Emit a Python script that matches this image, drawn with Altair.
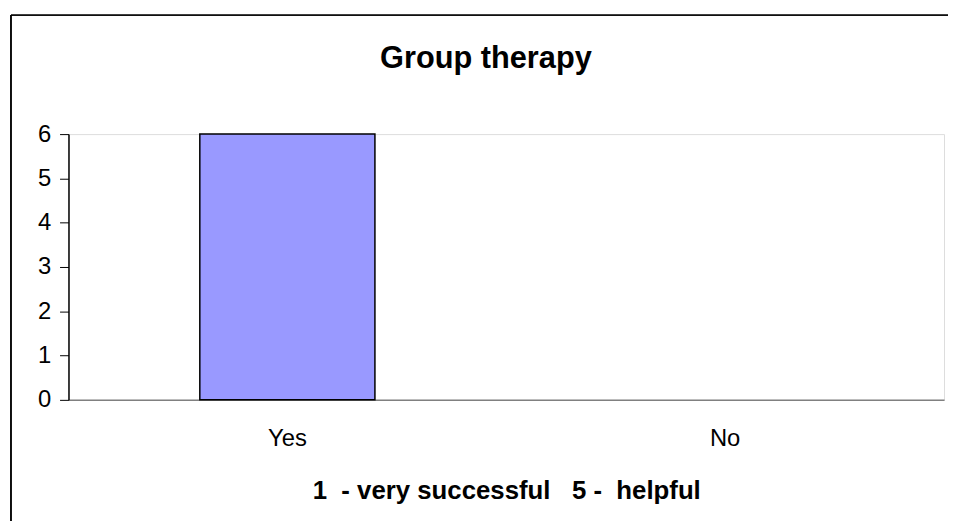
import altair as alt
import pandas as pd

categories = ["Yes", "No"]
values = [6, 0]
y_ticks = [0, 1, 2, 3, 4, 5, 6]
chart_title = ["Group therapy"]
x_title = "1\u00a0\u00a0-\u00a0very successful\u00a0\u00a0\u00a05\u00a0-\u00a0\u00a0helpful"

df = pd.DataFrame({"answer": categories, "count": values})
title_df = pd.DataFrame({"t": chart_title})

FONT = "Liberation Sans"

bars = alt.Chart(df).transform_filter("datum.count > 0").mark_bar(
    color="#9999FF", stroke="#000000", strokeWidth=1.5
).encode(
    x=alt.X(
        "answer:N",
        sort=categories,
        scale=alt.Scale(domain=categories, paddingInner=0.6, paddingOuter=0.3),
        axis=alt.Axis(
            title=x_title,
            labelAngle=0,
            labelFontSize=24,
            labelFont=FONT,
            labelColor="#000000",
            labelPadding=27,
            ticks=False,
            domainColor="#808080",
            domainWidth=1.5,
            titleFont=FONT,
            titleFontSize=26,
            titleFontWeight="bold",
            titleColor="#000000",
            titlePadding=27,
        ),
    ),
    y=alt.Y(
        "count:Q",
        scale=alt.Scale(domain=[0, 6], nice=False),
        axis=alt.Axis(
            title=None,
            values=y_ticks,
            format="d",
            grid=False,
            labelFontSize=24,
            labelFont=FONT,
            labelColor="#000000",
            labelPadding=9,
            tickSize=9,
            tickColor="#000000",
            tickWidth=1,
            domainColor="#000000",
            domainWidth=1.5,
        ),
    ),
)

title_mark = alt.Chart(title_df).mark_text(
    font=FONT, fontSize=31, fontWeight="bold", color="#000000",
    align="center", baseline="middle"
).encode(
    text="t:N", x=alt.value(421), y=alt.value(-76)
)

frame_left = alt.Chart(df).mark_rule(color="#000000", strokeWidth=1.5).encode(
    x=alt.value(-58), y=alt.value(-120), y2=alt.value(420)
)
frame_top = alt.Chart(df).mark_rule(color="#000000", strokeWidth=1.5).encode(
    x=alt.value(-58), x2=alt.value(900), y=alt.value(-120)
)

chart = alt.layer(frame_left, frame_top, title_mark, bars).properties(
    width=883,
    height=268,
    autosize=alt.AutoSizeParams(type="none"),
    padding={"left": 61, "top": 125, "right": 4, "bottom": 120},
).configure_view(
    stroke="#808080", strokeWidth=1.5
).configure(background="#ffffff")

chart.save("out.html", embed_options={"renderer": "svg", "actions": False})
